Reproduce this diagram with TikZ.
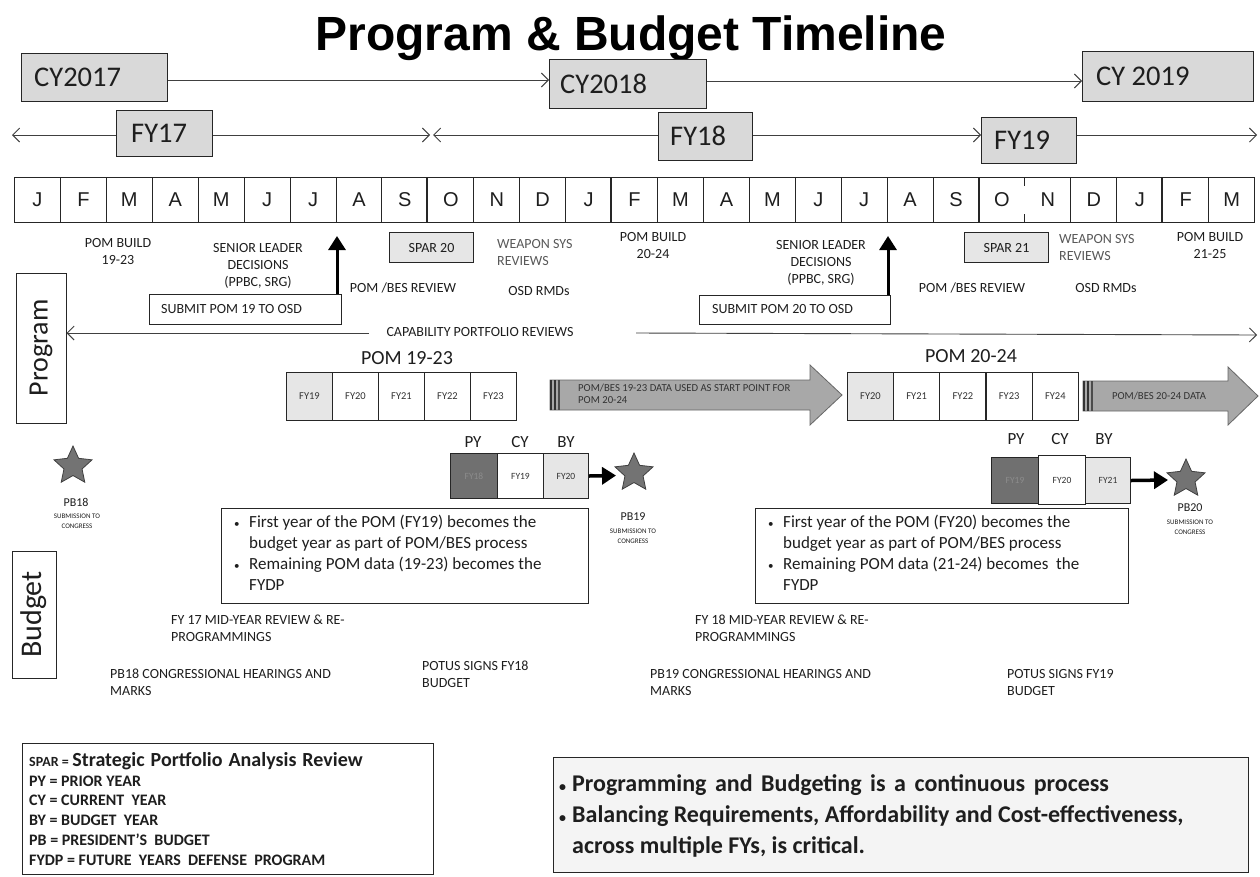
\documentclass[tikz,border=0pt]{standalone}
\usepackage{fontspec}
\usepackage{graphicx}
\setmainfont{Carlito}
\newfontfamily\arialf{Liberation Sans}
\usetikzlibrary{arrows.meta,shapes.geometric}
\newcommand{\fsz}[2]{\fontsize{#1}{#2}\selectfont}
\definecolor{boxgray}{HTML}{D9D9D9}
\definecolor{lightgray2}{HTML}{E6E6E6}
\definecolor{pygray}{HTML}{707070}
\definecolor{arrowgray}{HTML}{A8A8A8}
\definecolor{txt}{HTML}{1E1E1E}
\definecolor{linegray}{HTML}{404040}
\definecolor{panel}{HTML}{F4F4F4}
\tikzset{
  bx/.style={draw=black!85, line width=1pt, inner sep=0pt, anchor=north west},
  yr/.style={bx, fill=boxgray},
  yrtxt/.style={anchor=west, inner sep=0pt, font=\fsz{28.5}{30}, text=txt},
  lbl/.style={inner sep=0pt, align=center, font=\fsz{14}{17}, text=txt},
  tarrow/.style={draw=linegray, line width=0.9pt, -{Straight Barb[length=7pt,width=14pt]}},
  barrow/.style={draw=black, line width=3.5pt, -{Triangle[length=14pt,width=17pt]}},
  mcell/.style={draw=black!85, line width=1pt, inner sep=0pt, anchor=north west, minimum width=45.93pt, minimum height=45pt, font=\arialf\fsz{20}{22}, text=txt},
  fycell/.style={draw=black!85, line width=1pt, inner sep=0pt, anchor=north west, minimum width=46pt, minimum height=48pt, font=\fsz{10.5}{11}, text=black!80, fill=white},
  star5/.style={star, star points=5, star point ratio=2.1, inner sep=0pt, minimum size=40pt, fill=black!55, draw=black!75, line width=0.8pt},
  tinyl/.style={inner sep=0pt, align=center, font=\fsz{7}{10}, text=txt},
  blbl/.style={inner sep=0pt, align=left, anchor=west, font=\fsz{14}{17}, text=txt},
}
\begin{document}
\begin{tikzpicture}[x=1pt,y=-1pt]
\useasboundingbox (0,0) rectangle (1260,876);
\clip (0,0) rectangle (1260,876);
\fill[white] (0,0) rectangle (1260,876);

% title
\node[anchor=base, inner sep=0pt, font=\arialf\bfseries\fsz{48}{50}] (title) at (631,50) {Program \& Budget Timeline};

% calendar years
\node[yr, minimum width=146pt, minimum height=48pt] (cy17) at (21,53) {};
\node[yrtxt] (cy17t) at (34,77) {CY2017};
\node[yr, minimum width=157pt, minimum height=49pt] (cy18) at (549,59) {};
\node[yrtxt] (cy18t) at (560,84) {CY2018};
\node[yr, minimum width=171pt, minimum height=50pt] (cy19) at (1082,51) {};
\node[yrtxt] (cy19t) at (1096,76) {CY 2019};
\coordinate (cyl1) at (0,80);
\coordinate (cyl2) at (0,81);
\draw[tarrow] (cy17.east |- cyl1) -- (cy18.west |- cyl1);
\draw[tarrow] (cy18.east |- cyl2) -- (cy19.west |- cyl2);

% fiscal years
\coordinate (fyl) at (0,135);
\node[yr, minimum width=96pt, minimum height=46pt] (fy17) at (116,110) {};
\node[yrtxt] (fy17t) at (131,133) {FY17};
\node[yr, minimum width=94pt, minimum height=48pt] (fy18) at (658,112) {};
\node[yrtxt] (fy18t) at (670,136) {FY18};
\node[yr, minimum width=95pt, minimum height=46pt] (fy19) at (981,117) {};
\node[yrtxt] (fy19t) at (994,140) {FY19};
\coordinate (fyL) at (12,135);
\coordinate (fyM1) at (430,135);
\coordinate (fyM2) at (433,135);
\coordinate (fyR) at (1257,135);
\draw[tarrow] (fy17.west |- fyl) -- (fyL);
\draw[tarrow] (fy17.east |- fyl) -- (fyM1);
\draw[tarrow] (fy18.west |- fyl) -- (fyM2);
\draw[tarrow] (fy18.east |- fyl) -- (fy19.west |- fyl);
\draw[tarrow] (fy19.east |- fyl) -- (fyR);

% months
\foreach \l [count=\i from 0] in {J,F,M,A,M,J,J,A,S,O,N,D,J,F,M,A,M,J,J,A,S,O,N,D,J,F,M} {
  \node[mcell] (m\i) at ({14+45.93*\i},177) {\l};
}
\foreach \i in {9,13,21,25} {
  \draw[line width=2pt, black!85] (m\i.north west) -- (m\i.south west);
}
\fill[white] ([xshift=-1.5pt,yshift=-9pt]m22.north west) rectangle ([xshift=1.5pt,yshift=9pt]m22.south west);

% program labels, year 1
\node[lbl] (pb1) at (118,251) {POM BUILD\\19-23};
\node[lbl] (sld1) at (258,266) {SENIOR LEADER\\DECISIONS\\(PPBC, SRG)};
\node[bx, minimum width=192pt, minimum height=30pt] (sub1) at (149,294) {};
\node[anchor=west, inner sep=0pt, font=\fsz{14}{17}, text=txt] (sub1t) at (161,309) {SUBMIT POM 19 TO OSD};
\coordinate (up1) at (337,236);
\draw[barrow, line width=3pt] (up1 |- sub1.north) -- (up1);
\node[lbl] (pbr1) at (403,288) {POM /BES REVIEW};
\node[bx, fill=lightgray2, minimum width=84pt, minimum height=30pt, font=\fsz{14}{17}, text=txt] (spar20) at (389,232) {SPAR 20};
\node[blbl, text=black!65] (wsr1) at (497,252) {WEAPON SYS\\REVIEWS};
\node[lbl] (osd1) at (539,291) {OSD RMDs};
\node[lbl] (cprt) at (480,332) {CAPABILITY PORTFOLIO REVIEWS};

% side boxes
\node[draw=black!85, line width=1pt, rotate=90, minimum width=150pt, minimum height=50pt, inner sep=0pt, font=\fsz{28}{30}, text=txt] (progbox) at (41,348) {Program};
\node[draw=black!85, line width=1pt, rotate=90, minimum width=127pt, minimum height=44pt, inner sep=0pt, font=\fsz{30}{32}, text=txt] (budbox) at (34,614.5) {Budget};
\coordinate (cprs) at (369,333);
\draw[tarrow] (cprs) -- (cprs -| progbox.south);

% program labels, year 2
\node[lbl] (pb2) at (653,245) {POM BUILD\\20-24};
\node[lbl] (sld2) at (821,263) {SENIOR LEADER\\DECISIONS\\(PPBC, SRG)};
\node[bx, minimum width=191pt, minimum height=29pt] (sub2) at (699,295) {};
\node[anchor=west, inner sep=0pt, font=\fsz{14}{17}, text=txt] (sub2t) at (712,309.5) {SUBMIT POM 20 TO OSD};
\coordinate (up2) at (888,236);
\draw[barrow, line width=3pt] (up2 |- sub2.north) -- (up2);
\node[bx, fill=lightgray2, minimum width=84pt, minimum height=30pt, font=\fsz{14}{17}, text=txt] (spar21) at (964,232) {SPAR 21};
\node[blbl, text=black!65] (wsr2) at (1059,247) {WEAPON SYS\\REVIEWS};
\node[lbl] (pb3) at (1210,245) {POM BUILD\\21-25};
\node[lbl] (pbr2) at (972,288) {POM /BES REVIEW};
\node[lbl] (osd2) at (1106,288) {OSD RMDs};
\coordinate (cpr2s) at (636,333);
\coordinate (cpr2e) at (1257,335);
\draw[tarrow] (cpr2s) -- (cpr2e);

% POM tables
\node[lbl, font=\fsz{20}{22}] (pom1923) at (407,358) {POM 19-23};
\node[lbl, font=\fsz{20}{22}] (pom2024) at (971,356) {POM 20-24};
\node[fycell, fill=lightgray2] (a0) at (286,372) {FY19};
\node[fycell] (a1) at (332,372) {FY20};
\node[fycell] (a2) at (378,372) {FY21};
\node[fycell] (a3) at (424,372) {FY22};
\node[fycell] (a4) at (470,372) {FY23};
\node[fycell, fill=lightgray2] (b0) at (847,372) {FY20};
\node[fycell] (b1) at (893.2,372) {FY21};
\node[fycell] (b2) at (939.4,372) {FY22};
\node[fycell] (b3) at (985.6,372) {FY23};
\node[fycell] (b4) at (1031.8,372) {FY24};

% gray data arrows
\path[draw=black!60, fill=arrowgray, line width=0.8pt] (550,380) -- (810,380) -- (810,365) -- (842,395) -- (810,425) -- (810,410) -- (550,410) -- cycle;
\fill[black!80] (550,380) rectangle (552,410);
\fill[black!80] (554,380) rectangle (556,410);
\fill[black!70] (558,380) rectangle (559.5,410);
\node[inner sep=0pt, anchor=west, align=left, font=\fsz{10.7}{12}, text=black!80] (ga1t) at (578,394) {POM/BES 19-23 DATA USED AS START POINT FOR\\POM 20-24};
\path[draw=black!60, fill=arrowgray, line width=0.8pt] (1083,381) -- (1228,381) -- (1228,367) -- (1258,396) -- (1228,425) -- (1228,411) -- (1083,411) -- cycle;
\fill[black!80] (1083,381) rectangle (1085,411);
\fill[black!80] (1087,381) rectangle (1089,411);
\fill[black!70] (1091,381) rectangle (1092.5,411);
\node[inner sep=0pt, font=\fsz{10.7}{12}, text=black!80] (ga2t) at (1159,396) {POM/BES 20-24 DATA};

% PY CY BY set 1
\node[fycell, fill=pygray, text=black!45, minimum width=47pt, minimum height=45pt, font=\fsz{9.5}{10}] (py1) at (450,453) {FY18};
\node[fycell, minimum width=46pt, minimum height=45pt, font=\fsz{9.5}{10}] (cy1) at (497,453) {FY19};
\node[fycell, fill=lightgray2, minimum width=45pt, minimum height=45pt, font=\fsz{9.5}{10}] (by1) at (543,453) {FY20};
\node[lbl, font=\fsz{17}{20}] (py1l) at (473,442) {PY};
\node[lbl, font=\fsz{17}{20}] (cy1l) at (520,442) {CY};
\node[lbl, font=\fsz{17}{20}] (by1l) at (566,442) {BY};
\node[star5] (star1) at (634,473) {};
\coordinate (ar1e) at (616,475.5);
\draw[barrow] (by1.east) -- (ar1e);
\node[lbl, font=\fsz{12}{13}] (pb19) at (633,517) {PB19};
\node[tinyl] (pb19s) at (633,536) {SUBMISSION TO\\CONGRESS};

% PY CY BY set 2
\node[fycell, fill=pygray, text=black!45, minimum width=47pt, minimum height=46pt, font=\fsz{9.5}{10}] (py2) at (991,457) {FY19};
\node[fycell, minimum width=47pt, minimum height=49pt, font=\fsz{9.5}{10}] (cy2) at (1038,455) {FY20};
\node[fycell, fill=lightgray2, minimum width=45pt, minimum height=46pt, font=\fsz{9.5}{10}] (by2) at (1085,457) {FY21};
\node[lbl, font=\fsz{17}{20}] (py2l) at (1016,439) {PY};
\node[lbl, font=\fsz{17}{20}] (cy2l) at (1060,439) {CY};
\node[lbl, font=\fsz{17}{20}] (by2l) at (1104,439) {BY};
\node[star5] (star2) at (1186,479) {};
\coordinate (ar2e) at (1168,480);
\draw[barrow] (by2.east) -- (ar2e);
\node[lbl, font=\fsz{12}{13}] (pb20) at (1190,508) {PB20};
\node[tinyl] (pb20s) at (1190,527) {SUBMISSION TO\\CONGRESS};

% PB18
\node[star5] (star0) at (73,466) {};
\node[lbl, font=\fsz{12}{13}] (pb18) at (76,502) {PB18};
\node[tinyl] (pb18s) at (77,521) {SUBMISSION TO\\CONGRESS};

% bullet boxes
\node[bx, minimum width=367pt, minimum height=95pt] (bul1) at (221,508) {};
\node[anchor=north west, inner sep=0pt, align=left, font=\fsz{17}{21}, text=txt] (bul1t) at (234,515) {\makebox[15pt][l]{\fsz{11}{11}\textbullet}First year of the POM (FY19) becomes the\\\hspace*{15pt}budget year as part of POM/BES process\\\makebox[15pt][l]{\fsz{11}{11}\textbullet}Remaining POM data (19-23) becomes the\\\hspace*{15pt}FYDP};
\node[bx, minimum width=373pt, minimum height=95pt] (bul2) at (755,508) {};
\node[anchor=north west, inner sep=0pt, align=left, font=\fsz{17}{21}, text=txt] (bul2t) at (768,515) {\makebox[15pt][l]{\fsz{11}{11}\textbullet}First year of the POM (FY20) becomes the\\\hspace*{15pt}budget year as part of POM/BES process\\\makebox[15pt][l]{\fsz{11}{11}\textbullet}Remaining POM data (21-24) becomes\ \ the\\\hspace*{15pt}FYDP};

% budget labels
\node[blbl] (mid17) at (171,628.5) {FY 17 MID-YEAR REVIEW \& RE-\\PROGRAMMINGS};
\node[blbl] (ch18) at (110,682.5) {PB18 CONGRESSIONAL HEARINGS AND\\MARKS};
\node[blbl] (potus18) at (422,674.5) {POTUS SIGNS FY18\\BUDGET};
\node[blbl] (mid18) at (695,628.5) {FY 18 MID-YEAR REVIEW \& RE-\\PROGRAMMINGS};
\node[blbl] (ch19) at (650,682.5) {PB19 CONGRESSIONAL HEARINGS AND\\MARKS};
\node[blbl] (potus19) at (1007,682.5) {POTUS SIGNS FY19\\BUDGET};

% legend
\node[bx, minimum width=411pt, minimum height=131pt] (legend) at (22,743) {};
\node[anchor=north west, inner sep=0pt, align=left, font=\bfseries\fsz{16}{19.8}, text=txt] (legt) at (29,752) {{\fsz{14}{19.8}SPAR =} {\fsz{20}{19.8}\spaceskip=6pt Strategic Portfolio Analysis Review}\\PY = PRIOR YEAR\\CY = CURRENT\ \ YEAR\\BY = BUDGET\ \ YEAR\\PB = PRESIDENT'S\ \ BUDGET\\FYDP = FUTURE\ \ YEARS\ \ DEFENSE\ \ PROGRAM};

% key message box
\node[bx, fill=panel, minimum width=695pt, minimum height=115pt] (keybox) at (553,757) {};
\node[anchor=north west, inner sep=0pt, align=left, font=\bfseries\fsz{24}{31}, text=txt] (keyt) at (559,774) {\spaceskip=8.5pt\makebox[13pt][l]{\fsz{14}{14}\textbullet}Programming and Budgeting is a continuous process\\\makebox[13pt][l]{\fsz{14}{14}\textbullet}Balancing Requirements, Affordability and Cost-effectiveness,\\\hspace*{13pt}across multiple FYs, is critical.};
\end{tikzpicture}
\end{document}
